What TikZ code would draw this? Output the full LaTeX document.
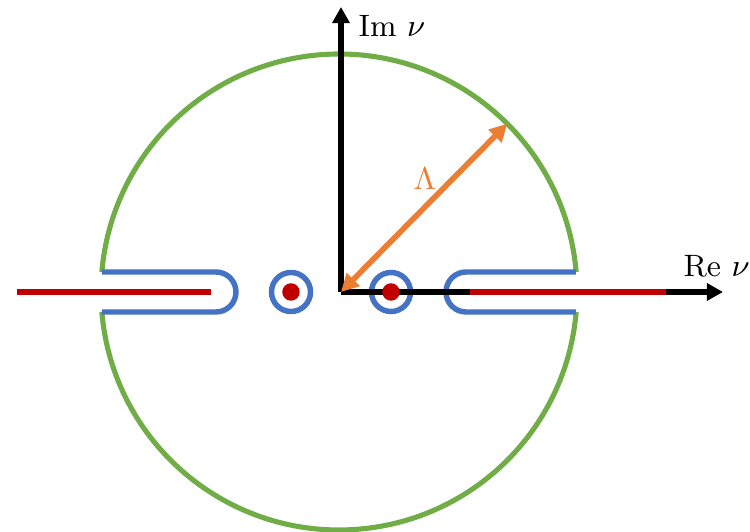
\documentclass[tikz,border=0pt]{standalone}
\usepackage{amsmath,amssymb}
\usepackage{tikz}
\usetikzlibrary{arrows.meta,calc}
\usepackage{xcolor}
\definecolor{cgreen}{RGB}{112,173,71}
\definecolor{cblue}{RGB}{68,114,196}
\definecolor{corange}{RGB}{237,125,49}
\definecolor{cred}{RGB}{192,0,0}

\begin{document}
\begin{tikzpicture}[line width=1.45pt,
	axis/.style={line width=1.6pt,-{Triangle[length=4.6pt,width=4.8pt]}},
	cut/.style={draw=cred,line width=1.6pt},
	contour/.style={draw=cblue,line width=1.55pt},
	lbl/.style={font=\fontsize{8.8}{11}\selectfont,inner sep=0pt}]
\useasboundingbox (-3.41,-2.40) rectangle (4.09,2.92);
				\coordinate (O) at (0,0);
				\coordinate (c) at (-0.02,0);
				
				\draw[cgreen] (c) ++(4.82:2.38) arc (4.82:175.18:2.38);
				\draw[cgreen] (c) ++(184.82:2.38) arc (184.82:355.18:2.38);
				
				\draw[contour] (-2.39,0.2) -- (-1.25,0.2) arc (90:-90:0.2) -- (-2.39,-0.2);
				\draw[contour] (2.35,0.2) -- (1.25,0.2) arc (90:270:0.2) -- (2.35,-0.2);
				\foreach \x in {-0.5,0.5} {
\draw[contour] (\x,0) circle (0.195);
				}
				
				\draw[axis] (O) -- (3.82,0) coordinate (re);
				\draw[axis] (O) -- (0,2.85) coordinate (im);
				\node[lbl,anchor=west] (relbl) at (3.40,0.26) {Re $\nu$};
				\node[lbl,anchor=west] (imlbl) at (0.15,2.66) {Im $\nu$};
				
				\draw[cut] (-3.24,0) -- (-1.30,0);
				\draw[cut] (1.29,0) -- (3.25,0);
				\foreach \x in {-0.5,0.5} {
\node[fill=cred, circle, inner sep=0pt, minimum size=0.175cm] (pole\x) at (\x,0) {};
				}
				
				\coordinate (L) at ($(c)+(45:2.38)$);
				\draw[draw=corange,line width=1.6pt,{Triangle[length=5pt,width=5pt]}-{Triangle[length=5pt,width=5pt]}] (O) -- (L);
				\node[lbl,text=corange] (lam) at (0.84,1.13) {$\Lambda$};
		\end{tikzpicture}
\end{document}
